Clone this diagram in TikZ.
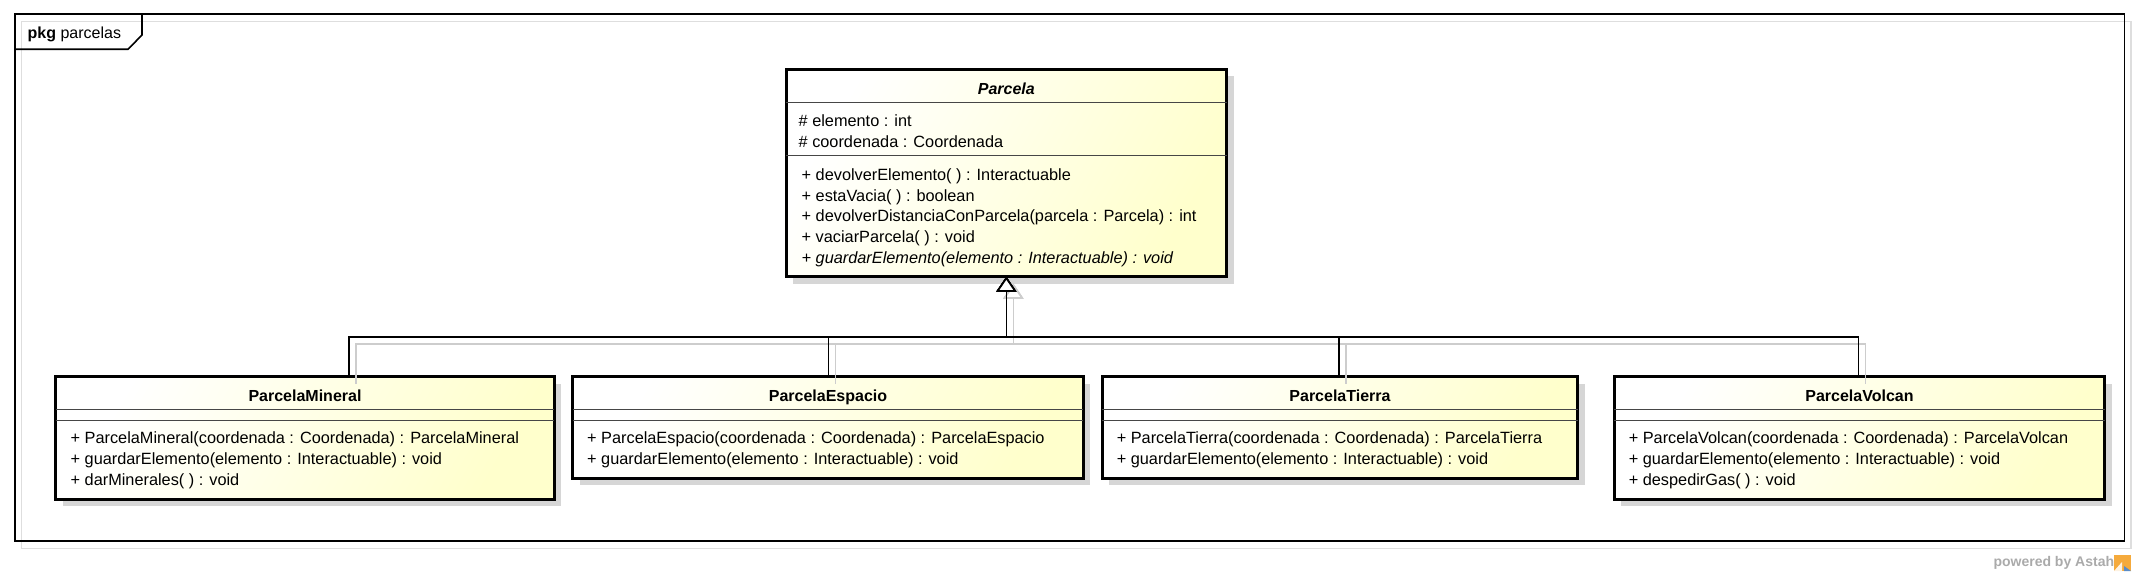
\documentclass[tikz,border=0pt]{standalone}
\usepackage{fontspec}
\setmainfont{Liberation Sans}
\usetikzlibrary{arrows.meta,shadows}
\definecolor{ylw}{RGB}{255,255,204}
\definecolor{shd}{RGB}{214,214,214}
\definecolor{lshd}{RGB}{205,205,205}
\definecolor{fshd}{RGB}{222,222,222}
\definecolor{sepc}{RGB}{70,70,70}
\definecolor{pgrey}{RGB}{170,170,170}
\definecolor{astahor}{RGB}{245,170,60}
\definecolor{astahbl}{RGB}{90,140,200}
\begin{document}
\begin{tikzpicture}[x=1pt,y=-1pt,
  classbox/.style={draw=black, line width=3pt, shading=axis, top color=white, bottom color=ylw, shading angle=60,
    inner sep=0pt, outer sep=0pt, anchor=north west,
    drop shadow={shadow xshift=7pt, shadow yshift=-7pt, fill=shd, opacity=1}},
  sepline/.style={draw=sepc, line width=1pt},
  optext/.style={anchor=base west, inner sep=0pt, font=\fontsize{16.3}{19}\selectfont},
  ctitle/.style={anchor=base, inner sep=0pt, font=\fontsize{16}{19}\selectfont\bfseries},
  gen/.style={draw=black, line width=1.7pt, -{Triangle[length=15pt,width=20pt,fill=white]}},
  genshadow/.style={draw=lshd, line width=1.7pt, -{Triangle[length=15pt,width=20pt,fill=white]}},
  framec/.style={draw=black, line width=1.6pt},
  frameshadow/.style={draw=fshd, line width=1.6pt}
]
\useasboundingbox (0,0) rectangle (2137,575);

% package frame
\draw[frameshadow] (21.4,21.7) rectangle (2131,548.3);
\draw[framec] (14.7,14.3) rectangle (2124.3,541);
\draw[framec] (14.7,49.3) -- (128,49.3) -- (142,35) -- (142,14.3);
\node[anchor=base west, inner sep=0pt, font=\fontsize{16}{19}\selectfont] (pkglabel) at (27.5,39) {\textbf{pkg} parcelas};

% class boxes
\node[classbox, minimum width=440.7pt, minimum height=207.4pt] (parcela) at (786,69.3) {};
\node[classbox, minimum width=498.4pt, minimum height=122.6pt] (mineral) at (55.7,376.7) {};
\node[classbox, minimum width=510.7pt, minimum height=101.6pt] (espacio) at (572.7,376.7) {};
\node[classbox, minimum width=475.2pt, minimum height=101.6pt] (tierra) at (1102.4,376.7) {};
\node[classbox, minimum width=490.1pt, minimum height=122.6pt] (volcan) at (1614.4,376.7) {};

% compartments
\draw[sepline] (786,102.3) -- (1226.7,102.3);
\draw[sepline] (786,155.7) -- (1226.7,155.7);
\draw[sepline] (55.7,409.3) -- (554.1,409.3);
\draw[sepline] (55.7,420) -- (554.1,420);
\draw[sepline] (572.7,409.3) -- (1083.4,409.3);
\draw[sepline] (572.7,420) -- (1083.4,420);
\draw[sepline] (1102.4,409.3) -- (1577.6,409.3);
\draw[sepline] (1102.4,420) -- (1577.6,420);
\draw[sepline] (1614.4,409.3) -- (2104.5,409.3);
\draw[sepline] (1614.4,420) -- (2104.5,420);

% Parcela texts
\node[ctitle, font=\fontsize{16}{19}\selectfont\bfseries\itshape] (pt) at (1006.3,94.3) {Parcela};
\node[optext] (pa1) at (798.5,126.7) {\# elemento : int};
\node[optext] (pa2) at (798.5,147.3) {\# coordenada : Coordenada};
\node[optext] (po1) at (801.5,180.7) {+ devolverElemento( ) : Interactuable};
\node[optext] (po2) at (801.5,201.3) {+ estaVacia( ) : boolean};
\node[optext] (po3) at (801.5,222) {+ devolverDistanciaConParcela(parcela : Parcela) : int};
\node[optext] (po4) at (801.5,242.7) {+ vaciarParcela( ) : void};
\node[optext] (po5) at (801.5,263.3) {\itshape + guardarElemento(elemento : Interactuable) : void};

% ParcelaMineral texts
\node[ctitle] (mt) at (305,401) {ParcelaMineral};
\node[optext] (mo1) at (70.5,443.3) {+ ParcelaMineral(coordenada : Coordenada) : ParcelaMineral};
\node[optext] (mo2) at (70.5,464) {+ guardarElemento(elemento : Interactuable) : void};
\node[optext] (mo3) at (70.5,485.2) {+ darMinerales( ) : void};

% ParcelaEspacio texts
\node[ctitle] (et) at (828,401) {ParcelaEspacio};
\node[optext] (eo1) at (587,443.3) {+ ParcelaEspacio(coordenada : Coordenada) : ParcelaEspacio};
\node[optext] (eo2) at (587,464) {+ guardarElemento(elemento : Interactuable) : void};

% ParcelaTierra texts
\node[ctitle] (tt) at (1340,401) {ParcelaTierra};
\node[optext] (to1) at (1116.6,443.3) {+ ParcelaTierra(coordenada : Coordenada) : ParcelaTierra};
\node[optext] (to2) at (1116.6,464) {+ guardarElemento(elemento : Interactuable) : void};

% ParcelaVolcan texts
\node[ctitle] (vt) at (1859.5,401) {ParcelaVolcan};
\node[optext] (vo1) at (1628.6,443.3) {+ ParcelaVolcan(coordenada : Coordenada) : ParcelaVolcan};
\node[optext] (vo2) at (1628.6,464) {+ guardarElemento(elemento : Interactuable) : void};
\node[optext] (vo3) at (1628.6,485.2) {+ despedirGas( ) : void};

% generalization connectors
\coordinate (jm) at (349.3,336.7);
\coordinate (je) at (828.6,336.7);
\coordinate (jt) at (1339.3,336.7);
\coordinate (jv) at (1858.6,336.7);
\coordinate (hub) at (parcela.south |- jm);

\begin{scope}[transform canvas={xshift=7pt,yshift=-7pt}]
  \draw[genshadow] (mineral.north -| jm) -- (jm) -- (hub) -- (parcela.south);
  \draw[genshadow] (espacio.north -| je) -- (je) -- (hub) -- (parcela.south);
  \draw[genshadow] (tierra.north -| jt) -- (jt) -- (hub) -- (parcela.south);
  \draw[genshadow] (volcan.north -| jv) -- (jv) -- (hub) -- (parcela.south);
\end{scope}
\draw[gen] (mineral.north -| jm) -- (jm) -- (hub) -- (parcela.south);
\draw[gen] (espacio.north -| je) -- (je) -- (hub) -- (parcela.south);
\draw[gen] (tierra.north -| jt) -- (jt) -- (hub) -- (parcela.south);
\draw[gen] (volcan.north -| jv) -- (jv) -- (hub) -- (parcela.south);

% powered by
\node[anchor=base west, inner sep=0pt, font=\fontsize{14}{16}\selectfont\bfseries, text=pgrey] (pw) at (1993.3,566.7) {powered by Astah};
\fill[astahor] (2114,555) rectangle (2131,571);
\fill[white!85!astahor] (2114,571) -- (2122,562) -- (2122,571) -- cycle;
\fill[astahbl] (2124,566) -- (2131,571) -- (2124,571) -- cycle;
\end{tikzpicture}
\end{document}
